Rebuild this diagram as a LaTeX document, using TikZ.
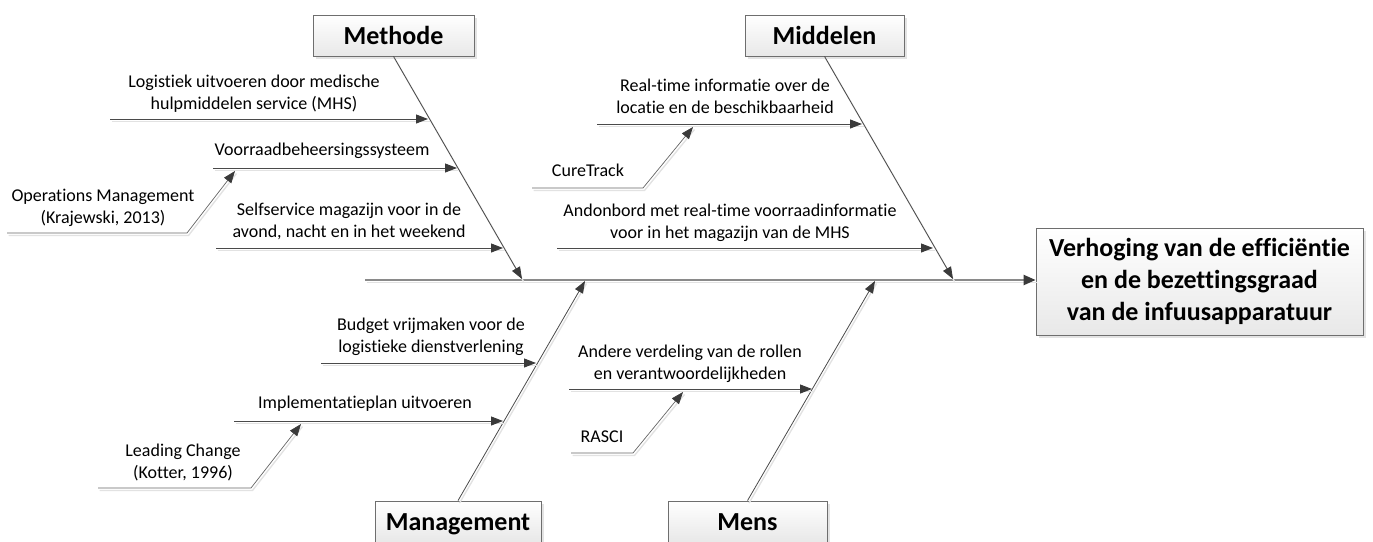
\documentclass[tikz,border=0pt]{standalone}
\usepackage{fontspec}
\setmainfont{Carlito}[Ligatures=NoCommon]
\usetikzlibrary{arrows.meta,shadows}
\definecolor{linec}{HTML}{4A4A4A}
\definecolor{spinec}{HTML}{8A8A8A}
\definecolor{tipc}{HTML}{3A3A3A}
\definecolor{boxline}{HTML}{6E6E6E}
\definecolor{shadec}{HTML}{E2E2E2}
\begin{document}
\begin{tikzpicture}[x=1pt,y=-1pt,
  lineshade/.style={preaction={draw=shadec, line width=1.4pt, -, transform canvas={shift={(1.5pt,-2.5pt)}}}},
  spine/.style={lineshade, draw=spinec, line width=2.2pt, -{Triangle[length=12pt,width=10pt,color=tipc]}},
  bone/.style={lineshade, draw=linec, line width=0.8pt, -{Triangle[length=12pt,width=9pt,color=tipc]}},
  rib/.style={lineshade, draw=linec, line width=1.0pt, -{Triangle[length=12pt,width=9pt,color=tipc]}},
  twig/.style={lineshade, draw=linec!85, line width=0.7pt, -{Triangle[length=12pt,width=9pt,color=tipc]}},
  lbl/.style={font=\fontsize{18}{22}\selectfont, align=center, inner sep=0pt, text depth=5pt, anchor=south},
  head/.style={draw=boxline, line width=0.8pt, top color=white, bottom color=black!9,
    drop shadow={shadow xshift=3pt, shadow yshift=-3pt, opacity=0.22},
    font=\fontsize{26}{32}\selectfont\bfseries, inner sep=0pt, minimum height=41pt,
    text height=17pt, text depth=0pt},
  effectbox/.style={draw=boxline, line width=0.8pt, top color=white, bottom color=black!9,
    drop shadow={shadow xshift=3pt, shadow yshift=-3pt, opacity=0.22},
    font=\fontsize{26}{32}\selectfont\bfseries, align=center, inner sep=0pt,
    minimum width=327pt, minimum height=107pt}
]
\useasboundingbox (0,0) rectangle (1373,541);

% heads
\node[head, minimum width=161pt] (methode) at (393.5,35.5) {Methode};
\node[head, minimum width=159pt] (middelen) at (824.5,35.5) {Middelen};
\node[head, minimum width=166pt] (management) at (458,521.5) {Management};
\node[head, minimum width=159pt] (mens) at (747.5,521.5) {Mens};
\node[effectbox] (effect) at (1199.5,281.5) {Verhoging van de efficiëntie\\en de bezettingsgraad\\van de infuusapparatuur};

% spine
\coordinate (s0) at (365,280);
\draw[spine] (s0) -- (s0 -| effect.west);

% branch tips on the spine
\coordinate (mt) at (522,279);
\coordinate (dt) at (953,279);
\coordinate (gt) at (585,281);
\coordinate (nt) at (875,281);
\draw[bone] (methode.south) -- (mt);
\draw[bone] (middelen.south) -- (dt);
\draw[bone] (management.north) -- (gt);
\draw[bone] (mens.north) -- (nt);

% Methode ribs
\coordinate (r1a) at (110,119); \coordinate (r1b) at (428,119);
\coordinate (r2a) at (213,168); \coordinate (r2b) at (457,168);
\coordinate (r3a) at (216,248); \coordinate (r3b) at (503,248);
\draw[rib] (r1a) -- (r1b);
\draw[rib] (r2a) -- (r2b);
\draw[rib] (r3a) -- (r3b);
\node[lbl] (l1) at (254,115) {Logistiek uitvoeren door medische\\hulpmiddelen service (MHS)};
\node[lbl] (l2) at (322,161) {Voorraadbeheersingssysteem};
\node[lbl] (l3) at (349,243) {Selfservice magazijn voor in de\\avond, nacht en in het weekend};
% Operations twig
\coordinate (t1a) at (7,233); \coordinate (t1b) at (187,233); \coordinate (t1c) at (235,171);
\draw[twig] (t1a) -- (t1b) -- (t1c);
\node[lbl] (l4) at (103,229) {Operations Management\\(Krajewski, 2013)};

% Middelen ribs
\coordinate (r4a) at (597,124); \coordinate (r4b) at (862,124);
\coordinate (r5a) at (557,248); \coordinate (r5b) at (933,248);
\draw[rib] (r4a) -- (r4b);
\draw[rib] (r5a) -- (r5b);
\node[lbl] (l5) at (725,119) {Real-time informatie over de\\locatie en de beschikbaarheid};
\node[lbl] (l6) at (730,244) {Andonbord met real-time voorraadinformatie\\voor in het magazijn van de MHS};
\coordinate (t2a) at (532,188); \coordinate (t2b) at (643,188); \coordinate (t2c) at (693,127);
\draw[twig] (t2a) -- (t2b) -- (t2c);
\node[lbl] (l7) at (588,182) {CureTrack};

% Management ribs
\coordinate (r6a) at (321,363); \coordinate (r6b) at (536,363);
\coordinate (r7a) at (234,421); \coordinate (r7b) at (503,421);
\draw[rib] (r6a) -- (r6b);
\draw[rib] (r7a) -- (r7b);
\node[lbl] (l8) at (431,358) {Budget vrijmaken voor de\\logistieke dienstverlening};
\node[lbl] (l9) at (365,414) {Implementatieplan uitvoeren};
\coordinate (t3a) at (98,488); \coordinate (t3b) at (251,488); \coordinate (t3c) at (301,424);
\draw[twig] (t3a) -- (t3b) -- (t3c);
\node[lbl] (l10) at (183,484) {Leading Change\\(Kotter, 1996)};

% Mens ribs
\coordinate (r8a) at (569,389); \coordinate (r8b) at (812,389);
\draw[rib] (r8a) -- (r8b);
\node[lbl] (l11) at (690,385) {Andere verdeling van de rollen\\en verantwoordelijkheden};
\coordinate (t4a) at (571,453); \coordinate (t4b) at (633,453); \coordinate (t4c) at (683,392);
\draw[twig] (t4a) -- (t4b) -- (t4c);
\node[lbl] (l12) at (602,448) {RASCI};
\end{tikzpicture}
\end{document}
